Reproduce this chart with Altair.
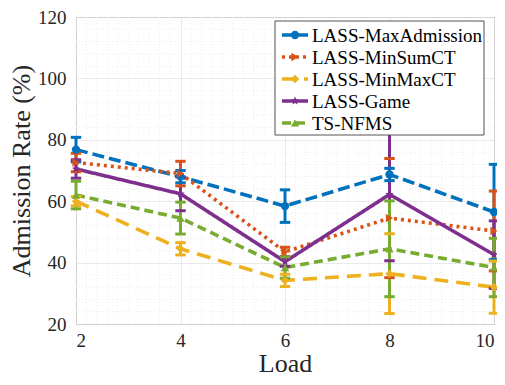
import altair as alt
import pandas as pd
import numpy as np

loads = [2, 4, 6, 8, 10]
series_names = ["LASS-MaxAdmission", "LASS-MinSumCT", "LASS-MinMaxCT", "LASS-Game", "TS-NFMS"]
max_adm = [76.8, 68.0, 58.4, 68.7, 56.5]
max_adm_err = [4.0, 2.0, 5.3, 2.0, 15.5]
min_sum = [72.6, 69.0, 43.5, 54.5, 50.3]
min_sum_err = [3.0, 4.0, 1.5, 19.4, 13.0]
min_max = [60.0, 44.5, 34.2, 36.4, 32.0]
min_max_err = [1.5, 2.0, 2.0, 13.0, 8.5]
game = [70.5, 62.4, 40.3, 62.2, 42.6]
game_err = [3.0, 5.5, 1.5, 21.6, 11.0]
nfms = [62.0, 54.5, 38.4, 44.5, 38.4]
nfms_err = [4.5, 5.2, 3.5, 15.6, 9.5]

colors = ["#0072BD", "#D95319", "#EDB120", "#7E2F8E", "#77AC30"]
dashes = [[12, 5], [3, 4], [14, 8], [1, 0], [9, 5]]
star = "M0,-1L0.29,-0.4L0.95,-0.31L0.48,0.15L0.59,0.81L0,0.5L-0.59,0.81L-0.48,0.15L-0.95,-0.31L-0.29,-0.4Z"
shapes = ["circle", "triangle-right", "diamond", star, "triangle-up"]

vals = [max_adm, min_sum, min_max, game, nfms]
errs = [max_adm_err, min_sum_err, min_max_err, game_err, nfms_err]
rows = []
for i, name in enumerate(series_names):
    for j, L in enumerate(loads):
        rows.append({"series": name, "order": i, "load": L, "value": vals[i][j], "err": errs[i][j]})
df = pd.DataFrame(rows)

FONT = "Liberation Serif"
TXT = "#262626"

color_enc = alt.Color("series:N", scale=alt.Scale(domain=series_names, range=colors), legend=None)
dash_enc = alt.StrokeDash("series:N", scale=alt.Scale(domain=series_names, range=dashes), legend=None)
shape_enc = alt.Shape("series:N", scale=alt.Scale(domain=series_names, range=shapes), legend=None)

xscale = alt.Scale(domain=[2, 10], nice=False)
yscale = alt.Scale(domain=[20, 120], nice=False)

minor_x = pd.DataFrame({"v": [round(v, 1) for v in np.arange(2.2, 10, 0.2) if abs(v / 2 - round(v / 2)) > 1e-6]})
minor_y = pd.DataFrame({"v": [v for v in range(24, 120, 4) if v % 20 != 0]})

gx = alt.Chart(minor_x).mark_rule(color="#e8e8e8", strokeWidth=0.8, strokeDash=[1, 2]).encode(
    x=alt.X("v:Q", scale=xscale))
gy = alt.Chart(minor_y).mark_rule(color="#e8e8e8", strokeWidth=0.8, strokeDash=[1, 2]).encode(
    y=alt.Y("v:Q", scale=yscale))

base = alt.Chart(df)

lines = base.mark_line(strokeWidth=3.6).encode(
    x=alt.X("load:Q", scale=xscale,
            axis=alt.Axis(values=loads, title="Load", format="d", labelFont=FONT, titleFont=FONT)),
    y=alt.Y("value:Q", scale=yscale,
            axis=alt.Axis(values=[20, 40, 60, 80, 100, 120], title="Admission Rate (%)",
                          labelFont=FONT, titleFont=FONT)),
    color=color_enc, strokeDash=dash_enc, detail="series:N",
    order=alt.Order("order:Q"))

eb = base.transform_calculate(lo="datum.value - datum.err", hi="datum.value + datum.err")
err_rules = eb.mark_rule(strokeWidth=3).encode(
    x=alt.X("load:Q", scale=xscale), y=alt.Y("lo:Q", scale=yscale), y2="hi:Q", color=color_enc)
caps_lo = eb.transform_calculate(a="datum.load - 0.1", b="datum.load + 0.1").mark_rule(strokeWidth=3).encode(
    x=alt.X("a:Q", scale=xscale), x2="b:Q", y=alt.Y("lo:Q", scale=yscale), color=color_enc)
caps_hi = eb.transform_calculate(a="datum.load - 0.1", b="datum.load + 0.1").mark_rule(strokeWidth=3).encode(
    x=alt.X("a:Q", scale=xscale), x2="b:Q", y=alt.Y("hi:Q", scale=yscale), color=color_enc)

points = base.mark_point(filled=True, size=70, opacity=1).encode(
    x=alt.X("load:Q", scale=xscale), y=alt.Y("value:Q", scale=yscale),
    color=color_enc, shape=shape_enc)

main = alt.layer(gx, gy, lines, err_rules, caps_lo, caps_hi, points)

# legend
leg = pd.DataFrame({"series": series_names, "rank": list(range(len(series_names)))})
ly = alt.Y("rank:Q", scale=alt.Scale(domain=[0, 4], range=[18, 106]), axis=None)
box = alt.Chart(pd.DataFrame({"k": [0]})).mark_rect(fill="white", stroke="#555555", strokeWidth=1).encode(
    x=alt.value(199), x2=alt.value(408), y=alt.value(4), y2=alt.value(118))
leg_lines = alt.Chart(leg).mark_rule(strokeWidth=3.6).encode(
    x=alt.value(206), x2=alt.value(232), y=ly, color=color_enc, strokeDash=dash_enc)
leg_pts = alt.Chart(leg).mark_point(filled=True, size=70, opacity=1).encode(
    x=alt.value(219), y=ly, color=color_enc, shape=shape_enc)
leg_txt = alt.Chart(leg).mark_text(align="left", baseline="middle", font=FONT, fontSize=19, color="#000000", dy=1).encode(
    x=alt.value(236), y=ly, text="series:N")
legend = alt.layer(box, leg_lines, leg_pts, leg_txt)

chart = alt.layer(main, legend).resolve_scale(y="independent").properties(
    width=418, height=307,
    autosize=alt.AutoSizeParams(type="none"),
    padding={"left": 68, "top": 9, "right": 3, "bottom": 53},
).configure(font=FONT).configure_view(stroke="#8c8c8c", strokeWidth=1).configure_axis(
    domain=False, ticks=False, grid=True, gridColor="#e3e3e3", gridWidth=0.8,
    labelFont=FONT, labelFontSize=19, labelColor=TXT,
    titleFont=FONT, titleFontSize=26, titleFontWeight="normal", titleColor=TXT,
).configure_axisX(labelPadding=7, titlePadding=0).configure_axisY(labelPadding=10, titlePadding=3)

chart.save("out.html", embed_options={"renderer": "svg", "actions": False})
